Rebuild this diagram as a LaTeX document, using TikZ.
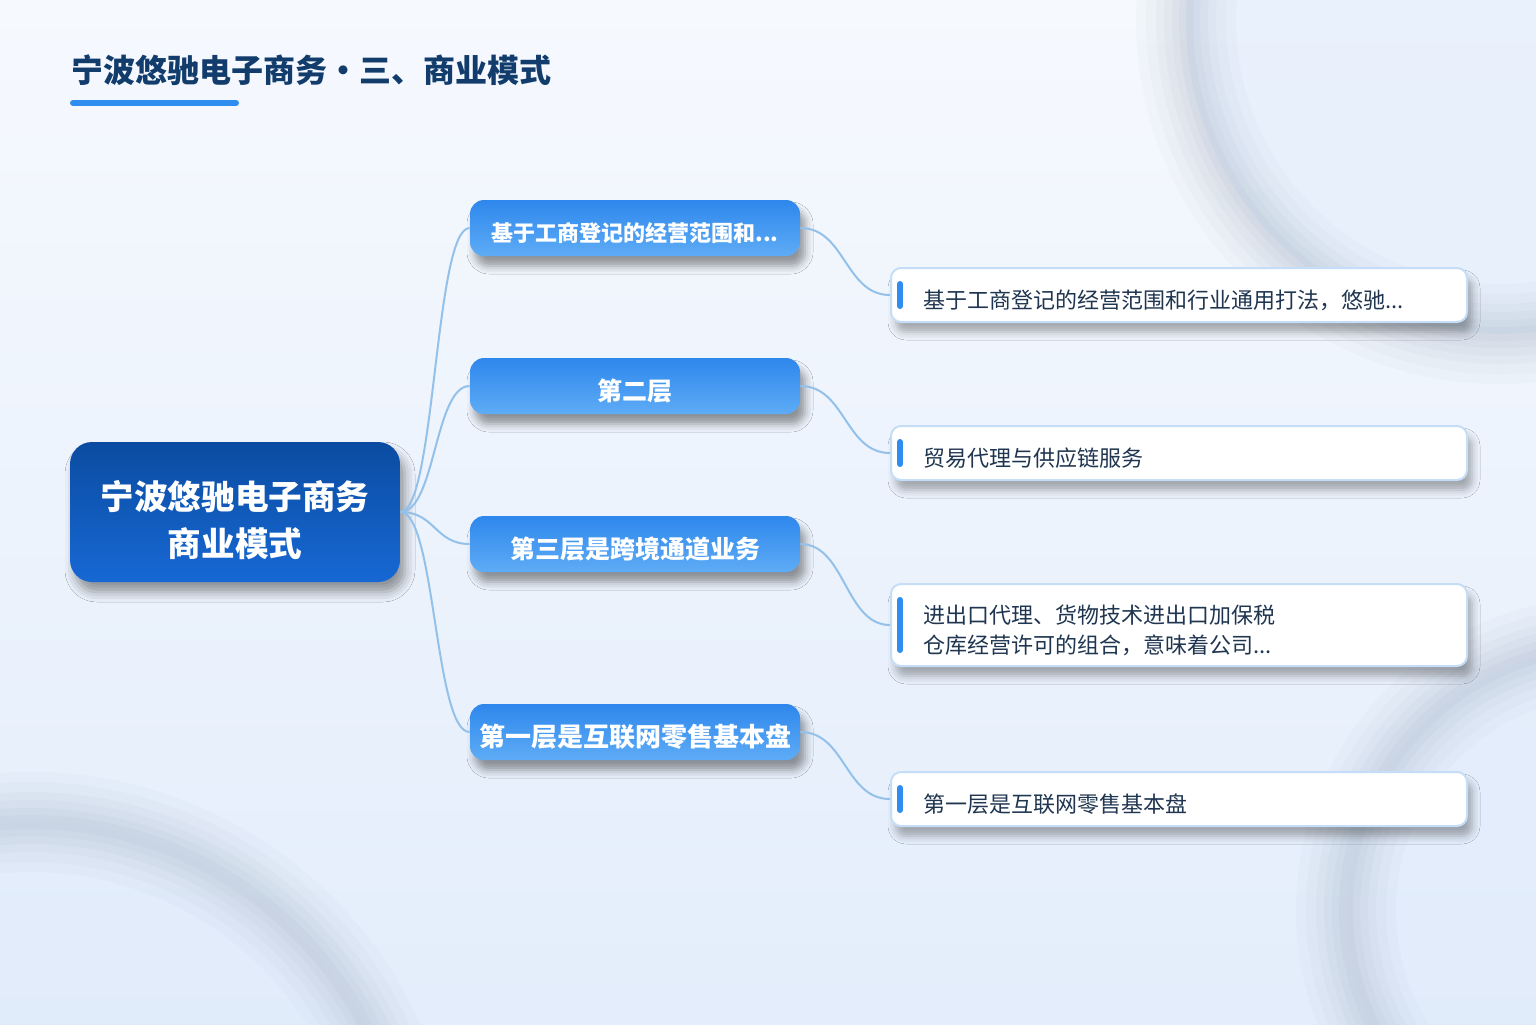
\documentclass[tikz,border=0pt]{standalone}
\usepackage{fontspec}
\setmainfont{Noto Sans CJK SC}
\usepackage{tikz}
\usetikzlibrary{shadows.blur}

\definecolor{bgtop}{HTML}{F6F9FE}
\definecolor{bgbottom}{HTML}{E3EDFB}
\definecolor{titleblue}{HTML}{123C6B}
\definecolor{barblue}{HTML}{2F8DF0}
\definecolor{roottop}{HTML}{0B4CA1}
\definecolor{rootbottom}{HTML}{1768D4}
\definecolor{layertop}{HTML}{2E87EC}
\definecolor{layerbottom}{HTML}{5EACF6}
\definecolor{linkblue}{HTML}{94C1EA}
\definecolor{detailborder}{HTML}{C5DDF6}
\definecolor{detailtext}{HTML}{1F3550}
\definecolor{ringgray}{HTML}{8E9BB0}
\definecolor{ringfill}{HTML}{E1ECFB}

\newcommand{\lowertext}[1]{\rule{0pt}{\dimexpr0.88em+#1\relax}}

\tikzset{
    rootnode/.style={rounded corners=11pt, top color=roottop, bottom color=rootbottom,
        text=white, font=\bfseries\fontsize{16.8}{23.5}\selectfont, align=center,
        text width=165pt, minimum height=70pt, inner sep=0pt,
        execute at begin node={\lowertext{8pt}},
        blur shadow={shadow xshift=2.5pt, shadow yshift=-5pt, shadow blur radius=5pt, shadow opacity=40}},
    layernode/.style={rounded corners=7pt, top color=layertop, bottom color=layerbottom,
        text=white, minimum width=165pt, minimum height=28pt, inner sep=0pt,
        execute at begin node={\lowertext{5pt}},
        blur shadow={shadow xshift=2.5pt, shadow yshift=-5pt, shadow blur radius=4pt, shadow opacity=40}},
    detailnode/.style={rounded corners=5pt, draw=detailborder, line width=1pt, fill=white,
        text=detailtext, font=\fontsize{11}{15}\selectfont, align=left,
        text width=256pt, inner xsep=16pt, inner ysep=0pt, minimum height=27pt, anchor=west,
        execute at begin node={\lowertext{4.5pt}},
        blur shadow={shadow xshift=2.5pt, shadow yshift=-5pt, shadow blur radius=4pt, shadow opacity=32}},
    branch/.style={draw=linkblue, line width=1pt},
    accent/.style={draw=barblue, line width=3pt, line cap=round}
}

\begin{document}
\begin{tikzpicture}[x=0.5pt, y=-0.5pt]

    \useasboundingbox (0,0) rectangle (1536,1024);
    \shade[top color=bgtop, bottom color=bgbottom] (0,0) rectangle (1536,1024);

    % soft rings in the background
    \begin{scope}
        \clip (0,0) rectangle (1536,1024);
        \fill[ringfill, opacity=0.6] (1500,20) circle [radius=157pt];
        \fill[ringfill, opacity=0.5] (30,1200) circle [radius=189pt];
        \fill[ringfill, opacity=0.5] (1610,910) circle [radius=132pt];
        \foreach \w/\o in {50/0.04, 40/0.045, 30/0.05, 22/0.055, 14/0.06, 7/0.065} {
            \draw[ringgray, line width=\w pt, opacity=\o] (1500,20) circle [radius=157pt];
            \draw[ringgray, line width=\w pt, opacity=\o] (30,1200) circle [radius=189pt];
            \draw[ringgray, line width=\w pt, opacity=\o] (1610,910) circle [radius=132pt];
        }
    \end{scope}

    % title
    \node[anchor=west, inner sep=0pt, text=titleblue, font=\bfseries\fontsize{16}{16}\selectfont] (title) at (71,70) {宁波悠驰电子商务・三、商业模式};
    \draw[accent, line width=3pt] (73,103) -- (236,103);

    % nodes
    \node[rootnode] (root) at (235,512) {宁波悠驰电子商务\\商业模式};

    \node[layernode, font=\bfseries\fontsize{11}{11}\selectfont] (L1) at (635,228) {基于工商登记的经营范围和...};
    \node[layernode, font=\bfseries\fontsize{12.5}{12.5}\selectfont] (L2) at (635,386) {第二层};
    \node[layernode, font=\bfseries\fontsize{12.5}{12.5}\selectfont] (L3) at (635,544) {第三层是跨境通道业务};
    \node[layernode, font=\bfseries\fontsize{13}{13}\selectfont] (L4) at (635,732) {第一层是互联网零售基本盘};

    \node[detailnode] (D1) at (890,295) {基于工商登记的经营范围和行业通用打法，悠驰...};
    \node[detailnode] (D2) at (890,453) {贸易代理与供应链服务};
    \node[detailnode, minimum height=41pt] (D3) at (890,625) {进出口代理、货物技术进出口加保税\\仓库经营许可的组合，意味着公司...};
    \node[detailnode] (D4) at (890,799) {第一层是互联网零售基本盘};

    \foreach \d in {D1,D2,D3,D4}
        \draw[accent] ([xshift=5pt, yshift=-8.5pt]\d.north west) -- ([xshift=5pt, yshift=8.5pt]\d.south west);

    % connectors
    \foreach \l in {L1,L2,L3,L4}
        \draw[branch] (root.east) .. controls +(35,0) and +(-35,0) .. (\l.west);

    \draw[branch] (L1.east) .. controls +(45,0) and +(-45,0) .. (D1.west);
    \draw[branch] (L2.east) .. controls +(45,0) and +(-45,0) .. (D2.west);
    \draw[branch] (L3.east) .. controls +(45,0) and +(-45,0) .. (D3.west);
    \draw[branch] (L4.east) .. controls +(45,0) and +(-45,0) .. (D4.west);

\end{tikzpicture}
\end{document}
